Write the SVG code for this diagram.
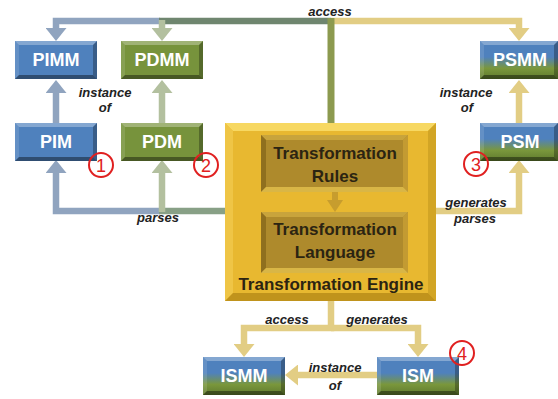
<svg xmlns="http://www.w3.org/2000/svg" xmlns:xlink="http://www.w3.org/1999/xlink" width="558" height="399" viewBox="0 0 558 399">
<defs>
<style>
.lbl{font-family:"Liberation Sans",Arial,sans-serif;font-weight:bold;font-size:18px;fill:#fff;text-anchor:middle}
.eng{font-family:"Liberation Sans",Arial,sans-serif;font-weight:bold;font-size:17px;fill:#2b2412;text-anchor:middle}
.ed{font-family:"Liberation Sans",Arial,sans-serif;font-weight:bold;font-style:italic;font-size:13px;fill:#222;text-anchor:middle}
.num{font-family:"Liberation Sans",Arial,sans-serif;font-size:18px;fill:#e02020;text-anchor:middle}
.circ{fill:none;stroke:#e02020;stroke-width:2}
.c{fill:none;stroke-width:6.5;stroke-linejoin:miter;stroke-linecap:butt}
.bl{stroke:#90a4bf}
.gd{stroke:#6f866f}
.gm{stroke:#88a086}
.gl{stroke:#b3c09f}
.ol{stroke:#8c9a4f;stroke-width:7}
.ye{stroke:#e2cd84}
</style>
<linearGradient id="mix" x1="0" y1="0" x2="0" y2="1">
<stop offset="0" stop-color="#4f81bd"/>
<stop offset="0.42" stop-color="#4f81bd"/>
<stop offset="0.72" stop-color="#7a973c"/>
<stop offset="1" stop-color="#5f7a2e"/>
</linearGradient>
<marker id="mb" markerUnits="userSpaceOnUse" viewBox="0 0 13 21" refX="0" refY="10.5" markerWidth="13" markerHeight="21" orient="auto"><path d="M0,0 L13,10.5 L0,21 z" fill="#90a4bf"/></marker>
<marker id="mg" markerUnits="userSpaceOnUse" viewBox="0 0 13 21" refX="0" refY="10.5" markerWidth="13" markerHeight="21" orient="auto"><path d="M0,0 L13,10.5 L0,21 z" fill="#b3c09f"/></marker>
<marker id="my" markerUnits="userSpaceOnUse" viewBox="0 0 13 21" refX="0" refY="10.5" markerWidth="13" markerHeight="21" orient="auto"><path d="M0,0 L13,10.5 L0,21 z" fill="#e2cd84"/></marker>
<g id="bev">
<polygon points="0,0 82,0 78,4 4,4" fill="#fff" fill-opacity="0.3"/>
<polygon points="0,0 4,4 4,34 0,38" fill="#fff" fill-opacity="0.12"/>
<polygon points="82,0 82,38 78,34 78,4" fill="#000" fill-opacity="0.28"/>
<polygon points="0,38 82,38 78,34 4,34" fill="#000" fill-opacity="0.4"/>
</g>
<g id="bev78">
<polygon points="0,0 78,0 74,4 4,4" fill="#fff" fill-opacity="0.3"/>
<polygon points="0,0 4,4 4,34 0,38" fill="#fff" fill-opacity="0.12"/>
<polygon points="78,0 78,38 74,34 74,4" fill="#000" fill-opacity="0.28"/>
<polygon points="0,38 78,38 74,34 4,34" fill="#000" fill-opacity="0.4"/>
</g>
</defs>
<rect width="558" height="399" fill="#fff"/>

<g id="connectors">
<path class="c bl" d="M160,21 H56 V28" marker-end="url(#mb)"/>
<path class="c gd" d="M331,21 H159"/>
<path class="c gl" d="M162,20 V28" marker-end="url(#mg)"/>
<path class="c ye" d="M331,21 H519 V28" marker-end="url(#my)"/>
<path class="c ol" d="M331,123 V18"/>
<path class="c bl" d="M56,123 V93" marker-end="url(#mb)"/>
<path class="c gl" d="M162,123 V93" marker-end="url(#mg)"/>
<path class="c ye" d="M519,123 V93" marker-end="url(#my)"/>
<path class="c bl" d="M160,211 H56 V173" marker-end="url(#mb)"/>
<path class="c gm" d="M226,211 H159"/>
<path class="c gl" d="M162,212 V173" marker-end="url(#mg)"/>
<path class="c ye" d="M436,211 H519 V173" marker-end="url(#my)"/>
<path class="c ye" d="M331,301 V328 H244 V344" marker-end="url(#my)"/>
<path class="c ye" d="M331,328 H418 V344" marker-end="url(#my)"/>
<path class="c ye" d="M377,375 H298" marker-end="url(#my)"/>
<text class="ed" x="330" y="16">access</text>
<text class="ed" x="105" y="97">instance</text>
<text class="ed" x="105" y="112">of</text>
<text class="ed" x="466" y="97">instance</text>
<text class="ed" x="467" y="112">of</text>
<text class="ed" x="158" y="222">parses</text>
<text class="ed" x="476" y="207">generates</text>
<text class="ed" x="475" y="223">parses</text>
<text class="ed" x="287" y="324">access</text>
<text class="ed" x="377" y="324">generates</text>
<text class="ed" x="335" y="372">instance</text>
<text class="ed" x="335" y="390">of</text>
</g>

<g id="PIMM">
<rect x="15" y="41" width="82" height="38" fill="#4f81bd"/>
<use xlink:href="#bev" x="15" y="41"/>
<text class="lbl" x="56" y="66">PIMM</text>
</g>
<g id="PDMM">
<rect x="121" y="41" width="82" height="38" fill="#77933c"/>
<use xlink:href="#bev" x="121" y="41"/>
<text class="lbl" x="162" y="66">PDMM</text>
</g>
<g id="PIM">
<rect x="15" y="123" width="82" height="38" fill="#4f81bd"/>
<use xlink:href="#bev" x="15" y="123"/>
<text class="lbl" x="56" y="148">PIM</text>
</g>
<g id="PDM">
<rect x="121" y="123" width="82" height="38" fill="#77933c"/>
<use xlink:href="#bev" x="121" y="123"/>
<text class="lbl" x="162" y="148">PDM</text>
</g>
<g id="PSMM">
<rect x="480" y="41" width="78" height="38" fill="url(#mix)"/>
<use xlink:href="#bev78" x="480" y="41"/>
<text class="lbl" x="520" y="66">PSMM</text>
</g>
<g id="PSM">
<rect x="480" y="123" width="78" height="38" fill="url(#mix)"/>
<use xlink:href="#bev78" x="480" y="123"/>
<text class="lbl" x="520" y="148">PSM</text>
</g>
<g id="ISMM">
<rect x="203" y="357" width="82" height="38" fill="url(#mix)"/>
<use xlink:href="#bev" x="203" y="357"/>
<text class="lbl" x="244" y="382">ISMM</text>
</g>
<g id="ISM">
<rect x="377" y="357" width="82" height="38" fill="url(#mix)"/>
<use xlink:href="#bev" x="377" y="357"/>
<text class="lbl" x="418" y="382">ISM</text>
</g>

<g id="engine">
<rect x="225" y="123" width="211" height="178" fill="#e8b830"/>
<polygon points="225,123 436,123 428,131 233,131" fill="#f7d862"/>
<polygon points="225,123 233,131 233,293 225,301" fill="#efc546"/>
<polygon points="436,123 436,301 428,293 428,131" fill="#d2a525"/>
<polygon points="225,301 436,301 428,293 233,293" fill="#c0931c"/>
<text class="eng" x="331" y="290">Transformation Engine</text>
</g>
<g id="rules">
<rect x="261" y="135" width="147" height="57" fill="#ae8a2c"/>
<polygon points="261,135 408,135 403,140 266,140" fill="#c8a43c"/>
<polygon points="261,135 266,140 266,187 261,192" fill="#8f6f1e"/>
<polygon points="408,135 408,192 403,187 403,140" fill="#c39b32"/>
<polygon points="261,192 408,192 403,187 266,187" fill="#d9b646"/>
<text class="eng" x="335" y="159">Transformation</text>
<text class="eng" x="335" y="182">Rules</text>
</g>
<g id="language">
<rect x="261" y="212" width="147" height="61" fill="#ae8a2c"/>
<polygon points="261,212 408,212 403,217 266,217" fill="#c8a43c"/>
<polygon points="261,212 266,217 266,268 261,273" fill="#8f6f1e"/>
<polygon points="408,212 408,273 403,268 403,217" fill="#c39b32"/>
<polygon points="261,273 408,273 403,268 266,268" fill="#d9b646"/>
<text class="eng" x="335" y="235">Transformation</text>
<text class="eng" x="335" y="258">Language</text>
</g>
<g id="rules-arrow">
<polygon points="332,192 338,192 338,200 343,200 335,212 327,200 332,200" fill="#c79d2e"/>
</g>

<g id="markers">
<circle class="circ" cx="101" cy="165" r="12"/>
<text class="num" x="101" y="171.5">1</text>
<circle class="circ" cx="206" cy="165" r="12"/>
<text class="num" x="206" y="171.5">2</text>
<circle class="circ" cx="476" cy="164" r="12"/>
<text class="num" x="476" y="170.5">3</text>
<circle class="circ" cx="462" cy="353" r="12"/>
<text class="num" x="462" y="359.5">4</text>
</g>
</svg>
